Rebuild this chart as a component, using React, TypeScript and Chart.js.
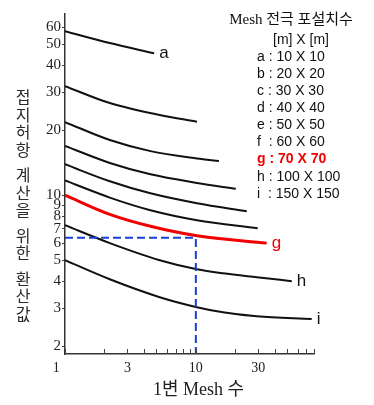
import React, { useEffect, useRef } from "react";
import { Chart, registerables } from "chart.js";

Chart.register(...registerables);

// ---- data ----
const curveNames = ["a", "b", "c", "d", "e", "f", "g", "h", "i"];
const aX = [1, 2.2, 4.8];
const aY = [57.4, 50.6, 45.4];
const bX = [1, 2.2, 5.3, 10.2];
const bY = [32.0, 26.7, 23.5, 21.9];
const cX = [1, 2.2, 4.5, 10.2, 15];
const cY = [21.8, 18.0, 16.0, 14.8, 14.4];
const dX = [1, 2.2, 4.5, 10.2, 20.2];
const dY = [16.9, 14.1, 12.5, 11.4, 10.7];
const eX = [1, 2.2, 4.5, 10.2, 24.5];
const eY = [13.9, 11.6, 10.2, 9.18, 8.43];
const fX = [1, 2.2, 4.5, 10.2, 29.7];
const fY = [11.7, 9.75, 8.52, 7.66, 7.03];
const gX = [1, 2.2, 4.5, 10.2, 34.8];
const gY = [10.0, 8.15, 7.18, 6.49, 6.0];
const hX = [1, 2.2, 5.3, 10.2, 16.1, 29.2, 54.1];
const hY = [7.26, 6.0, 5.0, 4.54, 4.35, 4.17, 4.0];
const iX = [1, 2.2, 5.3, 10.2, 16.1, 29.2, 76.8];
const iY = [5.0, 4.08, 3.37, 3.03, 2.87, 2.75, 2.67];
const labelledCurves = ["a", "g", "h", "i"];

const guideX = [1, 10, 10];
const guideY = [6.35, 6.35, 1.84];

const yTicks = [2, 3, 4, 5, 6, 7, 8, 9, 10, 20, 30, 40, 50, 60];
const xTicks = [1, 2, 3, 4, 5, 6, 7, 8, 9, 10, 20, 30, 40, 50, 60, 70, 80];
const xTickLabels: Record<number, string> = { 1: "1     ", 3: "3", 10: "10", 30: "30" };

const yTitle = "접지허항 계산을 위한 환산값";
const xTitle = "    1변 Mesh 수";
const legendTitle = "Mesh 전극 포설치수";
const legendUnit = "[m] X [m]";
const legendRows = [
  "a : 10 X 10",
  "b : 20 X 20",
  "c : 30 X 30",
  "d : 40 X 40",
  "e : 50 X 50",
  "f  : 60 X 60",
  "g : 70 X 70",
  "h : 100 X 100",
  "i  : 150 X 150",
];

const RED = "#f00000";
const INK = "#111111";

const curveXs = [aX, bX, cX, dX, eX, fX, gX, hX, iX];
const curveYs = [aY, bY, cY, dY, eY, fY, gY, hY, iY];

const annotPlugin = {
  id: "annot",
  afterDraw(chart: any) {
    const ctx = chart.ctx as CanvasRenderingContext2D;
    const xs = chart.scales.x;
    const ys = chart.scales.y;
    const area = chart.chartArea;
    ctx.save();

    // inward x tick marks
    ctx.strokeStyle = "#444";
    ctx.lineWidth = 1;
    xs.ticks.forEach((t: any) => {
      const px = Math.round(xs.getPixelForValue(t.value)) + 0.5;
      ctx.beginPath();
      ctx.moveTo(px, area.bottom);
      ctx.lineTo(px, area.bottom - 5);
      ctx.stroke();
    });

    // curve end labels
    ctx.textAlign = "left";
    ctx.textBaseline = "middle";
    curveNames.forEach((name, k) => {
      if (!labelledCurves.includes(name)) return;
      const xv = curveXs[k][curveXs[k].length - 1];
      const yv = curveYs[k][curveYs[k].length - 1];
      const px = xs.getPixelForValue(xv);
      const py = ys.getPixelForValue(yv);
      ctx.font = "17px 'Liberation Sans', Arial, sans-serif";
      ctx.fillStyle = name === "g" ? RED : INK;
      ctx.fillText(name, px + 5, py);
    });

    // legend block
    ctx.textAlign = "center";
    ctx.fillStyle = INK;
    ctx.font = "15px 'Liberation Serif', 'Noto Sans CJK KR', serif";
    ctx.fillText(legendTitle, 291, 20);
    ctx.font = "14px 'Liberation Sans', Arial, sans-serif";
    ctx.fillText(legendUnit, 301, 40);
    ctx.textAlign = "left";
    legendRows.forEach((row, k) => {
      const isG = row.startsWith("g");
      ctx.font = (isG ? "bold " : "") + "14px 'Liberation Sans', Arial, sans-serif";
      ctx.fillStyle = isG ? RED : INK;
      ctx.fillText(row, 257, 57 + k * 17.1);
    });

    // vertical (upright) y-axis title
    ctx.textAlign = "center";
    ctx.fillStyle = "#2a2a2a";
    ctx.font = "16px 'Noto Sans CJK KR', sans-serif";
    let y = 97;
    for (const ch of Array.from(yTitle)) {
      if (ch === " ") {
        y += 8;
        continue;
      }
      ctx.fillText(ch, 23, y);
      y += 17.5;
    }
    ctx.restore();
  },
};

export default function App() {
  const ref = useRef<HTMLCanvasElement | null>(null);

  useEffect(() => {
    if (!ref.current) return;
    const curveSets = curveNames.map((name, k) => ({
      label: name,
      data: curveXs[k].map((x, j) => ({ x, y: curveYs[k][j] })),
      borderColor: name === "g" ? RED : INK,
      borderWidth: name === "g" ? 3 : 2,
      pointRadius: 0,
      cubicInterpolationMode: "monotone" as const,
      fill: false,
    }));
    const guide = {
      label: "guide",
      data: guideX.map((x, j) => ({ x, y: guideY[j] })),
      borderColor: "#1a3fd6",
      borderWidth: 2,
      borderDash: [8, 4],
      pointRadius: 0,
      tension: 0,
      fill: false,
    };

    const chart = new Chart(ref.current, {
      type: "line",
      data: { datasets: [guide, ...curveSets] as any },
      options: {
        animation: false,
        responsive: false,
        devicePixelRatio: 1,
        layout: { padding: { top: 14, right: 60, left: 0, bottom: 0 } },
        plugins: { legend: { display: false }, tooltip: { enabled: false } },
        scales: {
          x: {
            type: "logarithmic",
            min: 1,
            max: 80,
            afterBuildTicks: (s: any) => {
              s.ticks = xTicks.map((v) => ({ value: v }));
            },
            afterFit: (s: any) => {
              s.height = 51;
            },
            ticks: {
              autoSkip: false,
              maxRotation: 0,
              padding: 6,
              color: "#222",
              font: { family: "'Liberation Serif', serif", size: 14 },
              callback: (v: any) => xTickLabels[Number(v)] ?? "",
            },
            grid: { drawOnChartArea: false, drawTicks: false },
            border: { display: true, color: "#333", width: 1.5 },
            title: {
              display: true,
              text: xTitle,
              color: "#222",
              font: { family: "'Liberation Serif', 'Noto Sans CJK KR', serif", size: 18 },
              padding: { top: 0, bottom: 4 },
            },
          },
          y: {
            type: "logarithmic",
            min: 1.84,
            max: 69,
            afterBuildTicks: (s: any) => {
              s.ticks = yTicks.map((v) => ({ value: v }));
            },
            afterFit: (s: any) => {
              s.width = 65;
            },
            ticks: {
              autoSkip: false,
              padding: 1,
              color: "#222",
              font: { family: "'Liberation Serif', serif", size: 15 },
              callback: (v: any) => String(v),
            },
            grid: { drawOnChartArea: false, drawTicks: true, tickLength: 3, color: "#444" },
            border: { display: true, color: "#333", width: 1.5 },
          },
        },
      },
      plugins: [annotPlugin],
    });
    return () => chart.destroy();
  }, []);

  return (
    <div style={{ position: "fixed", left: 0, top: 0, width: 374, height: 405, background: "#fff" }}>
      <canvas ref={ref} width={374} height={405} style={{ display: "block" }} />
    </div>
  );
}
